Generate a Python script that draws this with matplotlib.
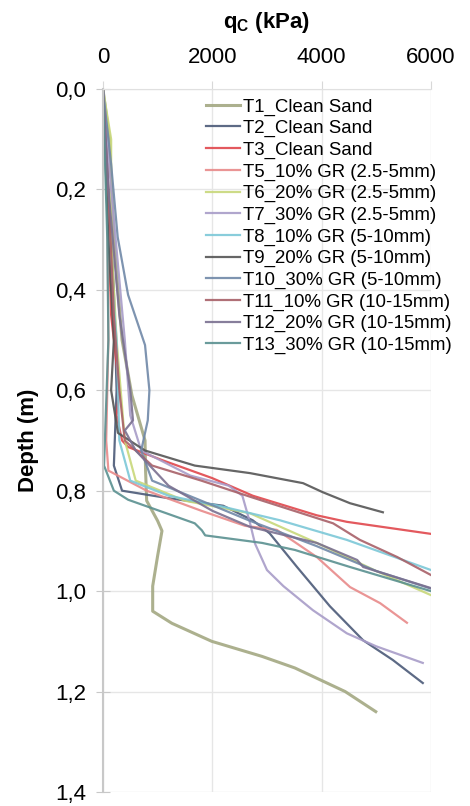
import matplotlib.pyplot as plt

plt.rcParams['font.family'] = ['Liberation Sans', 'DejaVu Sans']

# cone resistance q_c (kPa) vs depth (m) for each test
labels = ['T1_Clean Sand', 'T2_Clean Sand', 'T3_Clean Sand',
          'T5_10% GR (2.5-5mm)', 'T6_20% GR (2.5-5mm)', 'T7_30% GR (2.5-5mm)',
          'T8_10% GR (5-10mm)', 'T9_20% GR (5-10mm)', 'T10_30% GR (5-10mm)',
          'T11_10% GR (10-15mm)', 'T12_20% GR (10-15mm)', 'T13_30% GR (10-15mm)']
colors = ['#a3a882', '#4b5a78', '#e0474c', '#e88a8a', '#c8d87a', '#a89cc8',
          '#7cc8d8', '#555555', '#7088a8', '#a86068', '#7a7090', '#5a9090']

t1_q = [0, 120, 200, 350, 530, 770, 780, 800, 1000, 1080, 1000, 910, 910, 1260, 1990, 2910, 3510, 4430, 4990]
t1_d = [0, 0.10, 0.30, 0.50, 0.61, 0.70, 0.76, 0.82, 0.86, 0.88, 0.93, 0.99, 1.04, 1.064, 1.10, 1.13, 1.153, 1.20, 1.24]
t2_q = [0, 100, 200, 250, 200, 350, 1200, 2200, 2740, 3050, 3550, 4150, 4760, 5300, 5850]
t2_d = [0, 0.20, 0.40, 0.60, 0.75, 0.80, 0.815, 0.83, 0.859, 0.885, 0.952, 1.03, 1.098, 1.137, 1.183]
t3_q = [0, 80, 150, 300, 250, 350, 460, 1080, 2000, 2740, 3910, 4460, 6000]
t3_d = [0, 0.20, 0.45, 0.60, 0.65, 0.70, 0.713, 0.739, 0.775, 0.81, 0.849, 0.862, 0.886]
t5_q = [0, 80, 100, 60, 100, 800, 1800, 2600, 3180, 3910, 4520, 5070, 5560]
t5_d = [0, 0.20, 0.50, 0.70, 0.76, 0.80, 0.84, 0.87, 0.878, 0.932, 0.992, 1.024, 1.063]
t6_q = [0, 150, 150, 250, 400, 600, 1500, 2690, 3910, 5000, 6000]
t6_d = [0, 0.10, 0.30, 0.50, 0.70, 0.78, 0.82, 0.845, 0.904, 0.96, 1.008]
t7_q = [0, 150, 400, 500, 700, 1600, 2300, 2550, 2680, 2780, 3000, 3300, 3840, 4460, 5000, 5850]
t7_d = [0, 0.20, 0.50, 0.65, 0.72, 0.77, 0.79, 0.81, 0.86, 0.905, 0.958, 0.99, 1.038, 1.084, 1.11, 1.143]
t8_q = [0, 100, 250, 300, 500, 1200, 2200, 3240, 4460, 6000]
t8_d = [0, 0.30, 0.50, 0.70, 0.78, 0.81, 0.832, 0.859, 0.898, 0.958]
t9_q = [0, 100, 200, 150, 275, 770, 1680, 2690, 3660, 4020, 4520, 5120]
t9_d = [0, 0.30, 0.50, 0.60, 0.685, 0.72, 0.75, 0.765, 0.785, 0.803, 0.825, 0.843]
t10_q = [0, 150, 270, 460, 770, 850, 820, 700, 900, 1800, 2690, 3900, 5000, 6000]
t10_d = [0, 0.15, 0.295, 0.41, 0.51, 0.60, 0.66, 0.72, 0.78, 0.82, 0.86, 0.91, 0.96, 0.995]
t11_q = [0, 100, 200, 300, 400, 900, 1800, 2690, 4210, 4700, 5380, 6000]
t11_d = [0, 0.20, 0.45, 0.60, 0.70, 0.75, 0.78, 0.812, 0.865, 0.898, 0.932, 0.968]
t12_q = [0, 100, 300, 500, 550, 400, 600, 1200, 2000, 2690, 3910, 4650, 4760, 6000]
t12_d = [0, 0.20, 0.45, 0.60, 0.66, 0.68, 0.72, 0.79, 0.84, 0.872, 0.904, 0.938, 0.952, 0.994]
t13_q = [0, 80, 100, 20, 200, 460, 1680, 1810, 1870, 2910, 3510, 4520, 6000]
t13_d = [0, 0.30, 0.50, 0.75, 0.80, 0.818, 0.865, 0.879, 0.889, 0.904, 0.918, 0.952, 1.0]

qc = [t1_q, t2_q, t3_q, t5_q, t6_q, t7_q, t8_q, t9_q, t10_q, t11_q, t12_q, t13_q]
depth = [t1_d, t2_d, t3_d, t5_d, t6_d, t7_d, t8_d, t9_d, t10_d, t11_d, t12_d, t13_d]

fig = plt.figure(figsize=(4.7, 8.06), dpi=100)
ax = fig.add_axes([0.219, 0.0174, 0.698, 0.8722])

for q, d, lab, c in zip(qc, depth, labels, colors):
    lw = 2.2 if lab.startswith('T1_') else 1.6
    ax.plot(q, d, color=c, lw=lw, label=lab, alpha=0.9)

ax.set_xlim(0, 6000)
ax.set_ylim(1.4, 0)
ax.set_xticks([0, 2000, 4000, 6000])
ax.set_yticks([0, 0.2, 0.4, 0.6, 0.8, 1.0, 1.2, 1.4])
ax.set_yticklabels(['0,0', '0,2', '0,4', '0,6', '0,8', '1,0', '1,2', '1,4'])
ax.xaxis.tick_top()
ax.xaxis.set_label_position('top')
ax.tick_params(axis='x', labelsize=16, length=6, color='#d8d8d8', pad=9)
ax.tick_params(axis='y', labelsize=16, length=10, direction='inout',
               color='#c8c8c8', pad=7)
ax.set_xlabel(r'q$_\mathregular{C}$ (kPa)', fontsize=16, fontweight='bold', labelpad=14)
ax.set_ylabel('Depth (m)', fontsize=16, fontweight='bold', labelpad=12)

ax.grid(True, color='#e6e6e6', lw=1)
ax.set_axisbelow(True)
for s in ['right', 'bottom']:
    ax.spines[s].set_visible(False)
ax.spines['left'].set_color('#c8c8c8')
ax.spines['left'].set_linewidth(1.5)
ax.spines['top'].set_color('#e0e0e0')

ax.legend(loc='upper left', bbox_to_anchor=(0.285, 1.0), frameon=False,
          fontsize=13.4, handlelength=1.85, handletextpad=0.15,
          labelspacing=0.24, borderaxespad=0.1)

fig.savefig('out.png', dpi=100)
